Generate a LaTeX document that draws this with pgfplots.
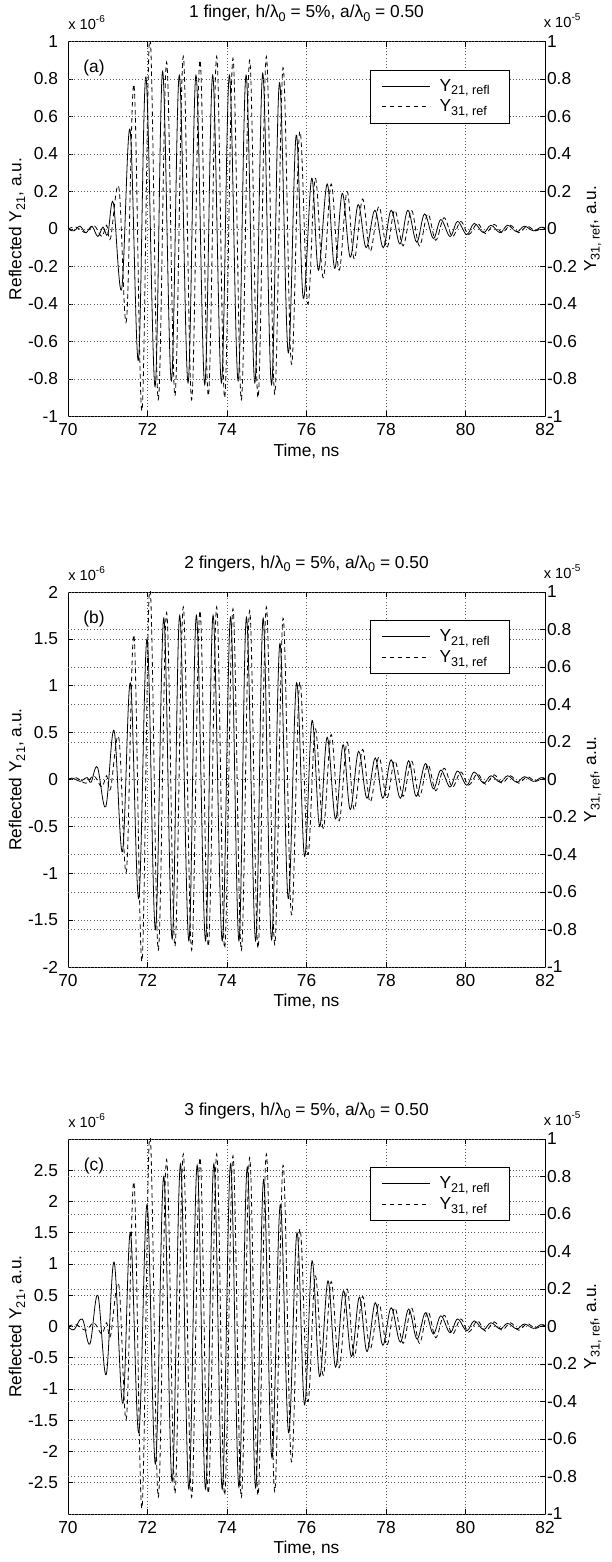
\documentclass[border=0pt]{standalone}
\usepackage{fontspec}
\setmainfont{Liberation Sans}
\usepackage{pgfplots}
\usepackage{pgfplotstable}
\pgfplotsset{compat=1.18}
\newcommand\myfont{\fontsize{13}{15}\selectfont}
\newcommand\sbs[1]{\raisebox{-0.4ex}{\fontsize{9.5}{10}\selectfont #1}}
\newcommand\mult[1]{{\fontsize{11}{12}\selectfont x 10\raisebox{0.9ex}{\fontsize{7.5}{8}\selectfont #1}}}

\pgfplotstableread{
t y
70.00 0
70.15 -0.01
70.30 0.015
70.45 -0.02
70.60 0.015
70.75 -0.04
70.88 0.01
71.00 -0.03
71.14 0.14
71.35 -0.32
71.56 0.53
71.77 -0.70
71.96 0.81
72.19 -0.84
72.38 0.84
72.60 -0.81
72.80 0.82
73.02 -0.82
73.22 0.82
73.44 -0.83
73.64 0.82
73.86 -0.82
74.06 0.82
74.28 -0.81
74.48 0.82
74.70 -0.82
74.90 0.83
75.12 -0.83
75.32 0.78
75.54 -0.66
75.74 0.50
75.92 -0.37
76.13 0.27
76.30 -0.22
76.52 0.24
76.71 -0.21
76.90 0.19
77.10 -0.15
77.30 0.13
77.50 -0.10
77.72 0.10
77.93 -0.10
78.13 0.10
78.35 -0.08
78.55 0.10
78.77 -0.07
78.97 0.08
79.19 -0.05
79.38 0.05
79.61 -0.04
79.80 0.04
80.03 -0.03
80.22 0.03
80.45 -0.02
80.64 0.02
80.87 -0.02
81.06 0.02
81.29 -0.015
81.48 0.015
81.71 -0.01
81.90 0.01
82.00 0
}\solidA

\pgfplotstableread{
t y
70.00 0
70.15 0.01
70.30 -0.02
70.48 0.02
70.58 -0.03
70.74 0.13
70.95 -0.29
71.16 0.52
71.37 -0.77
71.57 1.03
71.78 -1.27
71.99 1.50
72.20 -1.60
72.41 1.72
72.62 -1.70
72.81 1.75
73.04 -1.72
73.23 1.75
73.46 -1.72
73.65 1.75
73.88 -1.72
74.09 1.73
74.30 -1.72
74.49 1.73
74.72 -1.72
74.91 1.72
75.12 -1.71
75.33 1.45
75.54 -1.27
75.75 1.03
75.95 -0.82
76.14 0.63
76.33 -0.50
76.52 0.45
76.73 -0.42
76.92 0.37
77.10 -0.32
77.31 0.30
77.52 -0.20
77.73 0.23
77.92 -0.20
78.13 0.21
78.36 -0.20
78.57 0.20
78.76 -0.18
78.99 0.17
79.19 -0.10
79.38 0.10
79.61 -0.08
79.80 0.09
80.03 -0.06
80.22 0.08
80.45 -0.04
80.64 0.04
80.87 -0.03
81.06 0.04
81.29 -0.03
81.48 0.03
81.71 -0.02
81.90 0.02
82.00 0
}\solidB

\pgfplotstableread{
t y
70.00 0
70.15 -0.05
70.36 0.12
70.55 -0.28
70.75 0.50
70.96 -0.77
71.16 1.03
71.38 -1.23
71.57 1.50
71.78 -1.70
71.99 1.95
72.20 -2.20
72.41 2.40
72.62 -2.48
72.83 2.60
73.04 -2.60
73.25 2.58
73.46 -2.60
73.67 2.60
73.88 -2.60
74.09 2.60
74.30 -2.57
74.51 2.55
74.72 -2.58
74.92 2.35
75.13 -2.10
75.34 1.95
75.55 -1.70
75.76 1.50
75.95 -1.25
76.14 1.05
76.33 -0.80
76.54 0.73
76.73 -0.65
76.93 0.57
77.13 -0.48
77.33 0.47
77.52 -0.40
77.73 0.38
77.92 -0.30
78.13 0.30
78.36 -0.25
78.57 0.28
78.78 -0.20
78.99 0.22
79.19 -0.12
79.38 0.17
79.61 -0.10
79.80 0.12
80.03 -0.07
80.22 0.09
80.45 -0.05
80.64 0.06
80.87 -0.04
81.06 0.05
81.29 -0.04
81.48 0.04
81.71 -0.03
81.90 0.03
82.00 0
}\solidC

\pgfplotstableread{
t y
70.00 0
70.20 0.01
70.45 -0.02
70.65 0.02
70.85 -0.04
70.97 0.02
71.07 -0.05
71.28 0.22
71.47 -0.49
71.66 0.77
71.86 -0.97
72.06 1.03
72.27 -0.91
72.48 0.89
72.69 -0.89
72.90 0.92
73.11 -0.91
73.32 0.90
73.53 -0.89
73.74 0.92
73.94 -0.90
74.15 0.91
74.36 -0.91
74.57 0.90
74.78 -0.90
74.99 0.92
75.20 -0.88
75.41 0.86
75.62 -0.72
75.83 0.52
76.03 -0.40
76.22 0.27
76.42 -0.26
76.62 0.24
76.82 -0.22
77.02 0.20
77.20 -0.16
77.41 0.16
77.60 -0.12
77.82 0.12
78.02 -0.10
78.22 0.10
78.43 -0.09
78.64 0.10
78.84 -0.09
79.05 0.08
79.25 -0.06
79.46 0.06
79.67 -0.04
79.88 0.04
80.08 -0.03
80.30 0.03
80.50 -0.025
80.72 0.025
80.92 -0.02
81.13 0.02
81.34 -0.02
81.55 0.015
81.76 -0.01
81.95 0.01
82.00 0
}\dashedY

\pgfplotsset{
  mybase/.style={
    scale only axis, width=357.75pt, height=281.25pt,
    xmin=70, xmax=82,
    tick align=inside, major tick length=4pt,
    every tick/.style={black, line width=0.5pt},
    grid style={dotted, black!65, line width=0.5pt},
    tick label style={font=\myfont},
    /pgf/number format/assume math mode=true,
    /pgf/number format/fixed, /pgf/number format/precision=1,
    axis line style={line width=0.6pt},
    label style={font=\myfont},
    clip mode=individual,
  },
  leftax/.style={
    mybase,
    axis y line*=left,
    xtick={70,72,...,82},
    xmajorgrids, ymajorgrids,
    xticklabel style={yshift=-2pt},
    yticklabel style={xshift=-4pt},
    xlabel={Time, ns},
    xlabel style={at={(axis description cs:0.5,-0.092)}, anchor=center},
    ylabel={Reflected Y\sbs{21}, a.u.},
    ylabel style={at={(axis description cs:-0.107,0.5)}, anchor=center, rotate=0},
  },
  rightax/.style={
    mybase,
    axis x line=none, axis y line*=right,
    ymin=-1, ymax=1,
    ytick={-1,-0.8,-0.6,-0.4,-0.2,0,0.2,0.4,0.6,0.8,1},
    yticklabel style={xshift=-2pt},
    ymajorgrids,
    ylabel={Y\sbs{31, ref}, a.u.},
    ylabel style={at={(axis description cs:1.1,0.5)}, anchor=center, rotate=0},
    legend style={at={(axis description cs:0.927,0.925)}, anchor=north east,
      draw=black, line width=0.6pt, font=\myfont, inner xsep=8pt, inner ysep=5pt,
      row sep=1pt, cells={anchor=west}, nodes={inner xsep=7pt}},
    legend image code/.code={\draw[#1] (0pt,0pt) -- (36pt,0pt);},
  },
  solidline/.style={black, line width=0.6pt, smooth, tension=0.6},
  dashline/.style={black, line width=0.6pt, smooth, tension=0.6, dash pattern=on 3.5pt off 2.5pt},
}

\begin{document}
\begin{tikzpicture}
% ---------------- panel (a)
\begin{axis}[leftax, at={(51pt,859.125pt)}, anchor=south west,
  ymin=-1, ymax=1,
  ytick={-1,-0.8,-0.6,-0.4,-0.2,0,0.2,0.4,0.6,0.8,1}]
\addplot[solidline] table[x=t,y=y] {\solidA};
\node[font=\myfont] at (axis description cs:0.5,1.075) {1 finger, h/λ\sbs{0} = 5\%, a/λ\sbs{0} = 0.50};
\node[anchor=south west, inner sep=0pt] at (axis description cs:0,1.03) {\mult{-6}};
\node[font=\myfont] at (axis description cs:0.0545,0.929) {(a)};
\end{axis}
\begin{axis}[rightax, at={(51pt,859.125pt)}, anchor=south west]
\addlegendimage{black, line width=0.6pt}
\addlegendentry{Y\sbs{21, refl}}
\addplot[dashline] table[x=t,y=y] {\dashedY};
\addlegendentry{Y\sbs{31, ref}}
\node[anchor=south west, inner sep=0pt] at (axis description cs:0.997,1.035) {\mult{-5}};
\end{axis}

% ---------------- panel (b)
\begin{axis}[leftax, at={(51pt,446.25pt)}, anchor=south west,
  ymin=-2, ymax=2,
  ytick={-2,-1.5,-1,-0.5,0,0.5,1,1.5,2}]
\addplot[solidline] table[x=t,y=y] {\solidB};
\node[font=\myfont] at (axis description cs:0.5,1.075) {2 fingers, h/λ\sbs{0} = 5\%, a/λ\sbs{0} = 0.50};
\node[anchor=south west, inner sep=0pt] at (axis description cs:0,1.03) {\mult{-6}};
\node[font=\myfont] at (axis description cs:0.0545,0.929) {(b)};
\end{axis}
\begin{axis}[rightax, at={(51pt,446.25pt)}, anchor=south west]
\addlegendimage{black, line width=0.6pt}
\addlegendentry{Y\sbs{21, refl}}
\addplot[dashline] table[x=t,y=y] {\dashedY};
\addlegendentry{Y\sbs{31, ref}}
\node[anchor=south west, inner sep=0pt] at (axis description cs:0.997,1.035) {\mult{-5}};
\end{axis}

% ---------------- panel (c)
\begin{axis}[leftax, at={(51pt,36pt)}, anchor=south west,
  ymin=-3, ymax=3,
  ytick={-2.5,-2,-1.5,-1,-0.5,0,0.5,1,1.5,2,2.5}]
\addplot[solidline] table[x=t,y=y] {\solidC};
\node[font=\myfont] at (axis description cs:0.5,1.075) {3 fingers, h/λ\sbs{0} = 5\%, a/λ\sbs{0} = 0.50};
\node[anchor=south west, inner sep=0pt] at (axis description cs:0,1.03) {\mult{-6}};
\node[font=\myfont] at (axis description cs:0.0545,0.929) {(c)};
\end{axis}
\begin{axis}[rightax, at={(51pt,36pt)}, anchor=south west]
\addlegendimage{black, line width=0.6pt}
\addlegendentry{Y\sbs{21, refl}}
\addplot[dashline] table[x=t,y=y] {\dashedY};
\addlegendentry{Y\sbs{31, ref}}
\node[anchor=south west, inner sep=0pt] at (axis description cs:0.997,1.035) {\mult{-5}};
\end{axis}

\pgfresetboundingbox
\path (0pt,0pt) rectangle (458.25pt,1171.5pt);
\end{tikzpicture}
\end{document}
